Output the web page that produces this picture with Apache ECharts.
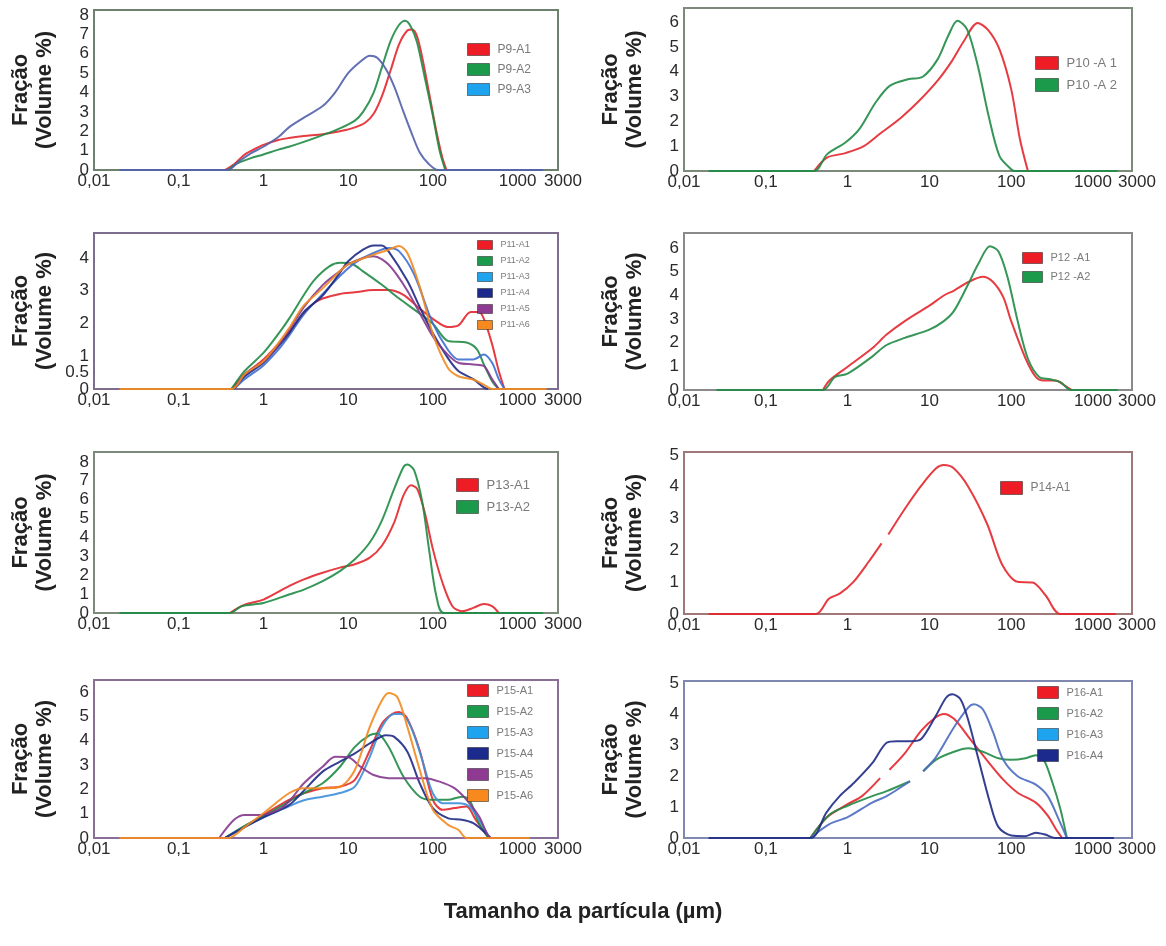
<!DOCTYPE html>
<html><head><meta charset="utf-8">
<script src="https://cdn.jsdelivr.net/npm/echarts@6/dist/echarts.min.js"></script>
<style>html,body{margin:0;padding:0;background:#fff}#c{width:1166px;height:946px}</style>
</head><body><div id="c"></div>
<script>
// ---------- tick labels ----------
const xTickValues = [0.01, 0.1, 1, 10, 100, 1000, 3000];
const xTickLabels = ['0,01', '0,1', '1', '10', '100', '1000', '3000'];
const yTicks_P9 = [0,1,2,3,4,5,6,7,8];
const yTicks_P10 = [0,1,2,3,4,5,6];
const yTicks_P11 = [0,0.5,1,2,3,4];
const yTicks_P12 = [0,1,2,3,4,5,6];
const yTicks_P13 = [0,1,2,3,4,5,6,7,8];
const yTicks_P14 = [0,1,2,3,4,5];
const yTicks_P15 = [0,1,2,3,4,5,6];
const yTicks_P16 = [0,1,2,3,4,5];

// ---------- data: [particle size (µm), volume %] ----------
const P9_A1 = [[0.35,0],[0.45,0.3],[0.6,0.8],[0.8,1.1],[1,1.3],[1.5,1.55],[2,1.65],[3,1.75],[5,1.85],[8,2.0],[12,2.2],[16,2.45],[20,2.9],[25,3.8],[32,5.2],[40,6.5],[50,7.2],[57,7.25],[65,6.9],[75,5.8],[90,4.0],[110,2.0],[130,0.6],[145,0]];
const P9_A2 = [[0.38,0],[0.5,0.35],[0.7,0.6],[1,0.8],[1.5,1.05],[2,1.2],[3,1.45],[5,1.8],[8,2.15],[12,2.55],[15,3.0],[20,4.0],[25,5.3],[32,6.7],[40,7.5],[47,7.7],[55,7.4],[65,6.6],[80,4.8],[100,2.8],[120,1.0],[140,0]];
const P9_A3 = [[0.02,0],[0.38,0],[0.5,0.4],[0.7,0.85],[1,1.2],[1.5,1.7],[2,2.2],[3,2.7],[5,3.3],[7,4.0],[10,5.0],[14,5.6],[18,5.9],[22,5.8],[28,5.2],[35,4.3],[45,3.0],[55,2.0],[70,0.9],[90,0.3],[115,0],[2000,0]];

const P10_A1 = [[0.39,0],[0.56,0.54],[0.94,0.72],[1.58,1.0],[2.6,1.55],[4.5,2.15],[7.5,2.83],[12.6,3.64],[19,4.45],[26,5.2],[39,5.97],[53,5.66],[72,4.9],[100,3.3],[128,1.28],[160,0]];
const P10_A2 = [[0.02,0],[0.39,0],[0.56,0.67],[0.94,1.15],[1.4,1.7],[2.2,2.76],[3.3,3.44],[5.5,3.7],[8.3,3.8],[12.6,4.5],[17,5.45],[22,6.06],[29,5.7],[39,4.25],[53,2.22],[72,0.6],[100,0.07],[110,0],[2000,0]];

const P11_A1 = [[0.42,0],[0.6,0.44],[1,0.9],[1.5,1.37],[2,1.73],[3,2.3],[4,2.63],[5,2.76],[8,2.9],[12,2.95],[20,3.02],[30,3.02],[45,2.87],[70,2.45],[100,2.14],[150,1.89],[200,1.94],[280,2.35],[350,2.35],[400,2.14],[500,1.37],[600,0.55],[700,0]];
const P11_A2 = [[0.42,0],[0.6,0.55],[1,1.1],[1.5,1.68],[2,2.14],[3,2.87],[4,3.33],[6,3.74],[8,3.85],[11,3.82],[15,3.59],[25,3.18],[40,2.76],[70,2.3],[100,1.99],[150,1.47],[250,1.42],[330,1.22],[400,0.75],[500,0.24],[600,0]];
const P11_A3 = [[0.45,0],[0.6,0.3],[1,0.72],[1.5,1.2],[2,1.62],[3,2.28],[5,2.9],[8,3.45],[12,3.85],[20,4.15],[30,4.3],[40,4.2],[60,3.5],[100,2.0],[150,1.2],[200,0.9],[300,0.9],[400,1.05],[500,0.8],[600,0.3],[700,0]];
const P11_A4 = [[0.45,0],[0.6,0.38],[1,0.8],[1.5,1.3],[2,1.7],[3,2.35],[5,2.85],[8,3.55],[10,3.9],[15,4.25],[20,4.38],[25,4.38],[30,4.2],[50,3.3],[70,2.5],[100,1.7],[150,0.95],[200,0.55],[300,0.3],[400,0.05],[450,0]];
const P11_A5 = [[0.45,0],[0.6,0.45],[1,0.85],[1.5,1.35],[2,1.8],[3,2.5],[5,3.17],[8,3.6],[10,3.8],[15,4.0],[20,4.05],[30,3.8],[50,3.0],[100,1.6],[150,1.05],[200,0.8],[300,0.75],[400,0.7],[500,0.3],[600,0]];
const P11_A6 = [[0.02,0],[0.42,0],[0.6,0.45],[1,0.85],[1.5,1.4],[2,1.85],[3,2.55],[5,3.07],[8,3.6],[10,3.8],[20,4.1],[30,4.25],[40,4.36],[50,4.15],[70,3.12],[100,1.68],[150,0.65],[200,0.39],[300,0.29],[400,0.13],[500,0],[2200,0]];

const P12_A1 = [[0.5,0],[0.6,0.4],[1,0.98],[2,1.76],[3,2.34],[5,2.91],[10,3.56],[15,3.99],[20,4.2],[30,4.56],[45,4.78],[60,4.56],[80,3.92],[100,2.91],[150,1.33],[200,0.55],[250,0.4],[350,0.4],[450,0.19],[550,0]];
const P12_A2 = [[0.025,0],[0.5,0],[0.7,0.55],[1,0.69],[2,1.41],[3,1.9],[5,2.2],[10,2.55],[15,2.91],[20,3.34],[30,4.49],[40,5.35],[55,6.07],[70,5.85],[90,4.78],[120,2.91],[160,1.33],[220,0.55],[300,0.45],[400,0.33],[500,0.04],[550,0],[2000,0]];

const P13_A1 = [[0.4,0],[0.6,0.44],[1,0.71],[2,1.42],[3,1.78],[5,2.13],[8,2.4],[12,2.58],[18,2.93],[25,3.56],[35,4.8],[45,6.22],[55,6.76],[65,6.58],[80,5.33],[100,3.38],[130,1.6],[170,0.36],[220,0.09],[300,0.27],[400,0.48],[500,0.36],[600,0]];
const P13_A2 = [[0.02,0],[0.4,0],[0.55,0.36],[1,0.53],[2,0.98],[3,1.24],[5,1.69],[8,2.22],[12,2.84],[18,3.73],[25,4.89],[35,6.58],[45,7.73],[50,7.86],[60,7.56],[75,5.87],[90,3.38],[110,0.89],[135,0],[2000,0]];

const P14_A1 = [[0.02,0],[0.41,0],[0.59,0.48],[0.8,0.64],[1.18,1.01],[1.82,1.65],[2.6,2.22],[2.85,null],[3.15,2.5],[5,3.3],[8,4.04],[12,4.57],[15,4.68],[20,4.57],[30,3.99],[51,2.82],[78,1.54],[120,1.01],[183,0.99],[263,0.59],[400,0],[1900,0]];

const P15_A1 = [[0.35,0],[0.6,0.48],[1,0.95],[2,1.57],[3,1.84],[5,2.05],[8,2.11],[12,2.39],[18,3.6],[25,4.7],[33,5.1],[40,5.18],[50,4.91],[70,3.6],[100,1.57],[130,1.16],[180,1.23],[250,1.3],[320,0.75],[420,0.2],[480,0]];
const P15_A2 = [[0.35,0],[0.6,0.5],[1,0.9],[2,1.5],[3,1.85],[5,2.25],[8,2.93],[12,3.75],[18,4.23],[22,4.3],[30,3.75],[45,2.52],[70,1.7],[100,1.57],[150,1.57],[220,1.7],[270,1.57],[350,0.61],[450,0]];
const P15_A3 = [[0.35,0],[0.6,0.45],[1,0.85],[2,1.3],[3,1.55],[5,1.7],[8,1.85],[12,2.11],[18,3.34],[25,4.57],[35,5.1],[42,5.1],[55,4.57],[75,3.2],[100,1.84],[130,1.43],[200,1.43],[270,1.3],[350,0.75],[470,0]];
const P15_A4 = [[0.35,0],[0.6,0.45],[1,0.85],[2,1.35],[3,1.95],[5,2.73],[8,3.14],[12,3.48],[18,3.89],[28,4.23],[35,4.16],[50,3.55],[70,2.25],[100,1.23],[150,0.82],[220,0.75],[300,0.61],[400,0.27],[480,0]];
const P15_A5 = [[0.3,0],[0.45,0.75],[0.6,0.95],[0.9,0.95],[1.5,1.16],[2,1.5],[3,2.25],[5,2.93],[7,3.34],[10,3.32],[14,2.93],[20,2.59],[30,2.46],[50,2.46],[80,2.46],[120,2.32],[180,2.05],[250,1.57],[350,0.89],[450,0.07],[480,0]];
const P15_A6 = [[0.02,0],[0.38,0],[0.6,0.45],[1,1.02],[2,1.84],[3,2.05],[5,2.05],[8,2.11],[12,2.8],[18,4.57],[25,5.66],[30,5.97],[38,5.8],[50,4.57],[70,2.8],[100,1.16],[150,0.55],[200,0.34],[250,0],[1400,0]];

const P16_A1 = [[0.35,0],[0.56,0.67],[1,1.09],[1.5,1.35],[2.5,1.93],[2.85,null],[3.25,2.2],[5,2.73],[8,3.47],[12,3.89],[15,4.0],[20,3.84],[30,3.26],[50,2.52],[80,1.88],[120,1.46],[200,1.14],[280,0.72],[350,0.3],[420,0]];
const P16_A2 = [[0.35,0],[0.6,0.75],[1,1.04],[2,1.35],[3,1.51],[5.8,1.83],[7,null],[8.4,2.15],[12,2.52],[20,2.78],[30,2.89],[45,2.78],[70,2.57],[100,2.52],[150,2.57],[200,2.67],[250,2.52],[320,1.78],[400,0.93],[480,0]];
const P16_A3 = [[0.35,0],[0.6,0.45],[1,0.67],[2,1.14],[3,1.35],[5.8,1.83],[7,null],[8.4,2.15],[12,2.6],[20,3.57],[30,4.21],[35,4.31],[45,4.15],[60,3.41],[80,2.52],[120,1.99],[200,1.72],[280,1.35],[380,0.61],[480,0]];
const P16_A4 = [[0.02,0],[0.35,0],[0.55,0.82],[0.8,1.35],[1.2,1.78],[2,2.41],[3,3.07],[4,3.12],[6,3.12],[8,3.2],[12,3.94],[16,4.52],[19,4.63],[24,4.47],[30,3.78],[40,2.52],[55,1.14],[70,0.35],[100,0.08],[150,0.06],[200,0.17],[260,0.11],[350,0],[1800,0]];

// ---------- styling ----------
const RED = '#e3262c', GREEN = '#1f8b45', NAVY = '#1f2a86', PURPLE = '#84388e', ORANGE = '#f28a1f';
const L_RED = '#ee1c25', L_GREEN = '#1a9a4a', L_BLUE = '#1ea3ee', L_NAVY = '#1b2a8c', L_PURPLE = '#8e3a92', L_ORANGE = '#f7891f';
const FONT = 'Liberation Sans, Arial, sans-serif';

const panels = [
  {grid:{left:94, top:10, width:464, height:160}, yMax:8.26, ticks:yTicks_P9, border:'#6e806e',
   legend:{left:467, top:43, w:22, h:12, gap:7, fs:12},
   series:[['P9-A1',P9_A1,RED,L_RED],['P9-A2',P9_A2,GREEN,L_GREEN],['P9-A3',P9_A3,'#5161ab',L_BLUE]]},
  {grid:{left:684, top:8, width:448, height:163}, yMax:6.57, ticks:yTicks_P10, border:'#7c8a7c',
   legend:{left:1035, top:56, w:23, h:13, gap:8, fs:13},
   series:[['P10 -A 1',P10_A1,RED,L_RED],['P10 -A 2',P10_A2,GREEN,L_GREEN]]},
  {grid:{left:94, top:233, width:464, height:156}, yMax:4.76, ticks:yTicks_P11, border:'#7e6e8e',
   legend:{left:477, top:240, w:15, h:9, gap:6, fs:9},
   series:[['P11-A1',P11_A1,RED,L_RED],['P11-A2',P11_A2,GREEN,L_GREEN],['P11-A3',P11_A3,'#3f6fd0',L_BLUE],
           ['P11-A4',P11_A4,NAVY,L_NAVY],['P11-A5',P11_A5,PURPLE,L_PURPLE],['P11-A6',P11_A6,ORANGE,L_ORANGE]]},
  {grid:{left:684, top:233, width:448, height:157}, yMax:6.63, ticks:yTicks_P12, border:'#8a8a8a',
   legend:{left:1022, top:252, w:20, h:11, gap:7, fs:11},
   series:[['P12 -A1',P12_A1,RED,L_RED],['P12 -A2',P12_A2,GREEN,L_GREEN]]},
  {grid:{left:94, top:452, width:464, height:161}, yMax:8.52, ticks:yTicks_P13, border:'#7c8a7c',
   legend:{left:456, top:478, w:22, h:13, gap:8, fs:13},
   series:[['P13-A1',P13_A1,RED,L_RED],['P13-A2',P13_A2,GREEN,L_GREEN]]},
  {grid:{left:684, top:452, width:448, height:162}, yMax:5.09, ticks:yTicks_P14, border:'#a07878',
   legend:{left:1000, top:481, w:22, h:13, gap:8, fs:12},
   series:[['P14-A1',P14_A1,RED,L_RED]]},
  {grid:{left:94, top:680, width:464, height:158}, yMax:6.5, ticks:yTicks_P15, border:'#8a6e9a',
   legend:{left:467, top:684, w:21, h:12, gap:8, fs:11},
   series:[['P15-A1',P15_A1,RED,L_RED],['P15-A2',P15_A2,GREEN,L_GREEN],['P15-A3',P15_A3,'#3d8ed8',L_BLUE],
           ['P15-A4',P15_A4,NAVY,L_NAVY],['P15-A5',P15_A5,PURPLE,L_PURPLE],['P15-A6',P15_A6,ORANGE,L_ORANGE]]},
  {grid:{left:684, top:681, width:448, height:157}, yMax:5.06, ticks:yTicks_P16, border:'#7e88b0',
   legend:{left:1037, top:686, w:21, h:12, gap:8, fs:11},
   series:[['P16-A1',P16_A1,RED,L_RED],['P16-A2',P16_A2,GREEN,L_GREEN],['P16-A3',P16_A3,'#4a6cbf',L_BLUE],
           ['P16-A4',P16_A4,NAVY,L_NAVY]]}
];

function xLabel(v) {
  const lv = Math.log10(v);
  for (let i = 0; i < xTickValues.length; i++) {
    if (Math.abs(Math.log10(xTickValues[i]) - lv) < 0.01) {
      return i === xTickValues.length - 1 ? '{last|' + xTickLabels[i] + '}' : xTickLabels[i];
    }
  }
  return '';
}

const option = {
  animation: false,
  backgroundColor: '#ffffff',
  title: {text: 'Tamanho da partícula (µm)', left: 'center', top: 896,
          textStyle: {fontFamily: FONT, fontSize: 22, fontWeight: 'bold', color: '#222'}},
  grid: [], xAxis: [], yAxis: [], legend: [], series: []
};

const yLabelStyle = {fontFamily: FONT, fontSize: 17, color: '#2a2a2a', hideOverlap: false};
const extraAxes = [];

panels.forEach((p, i) => {
  option.grid.push(Object.assign({show: true, borderColor: p.border, borderWidth: 2,
    backgroundColor: 'transparent', containLabel: false, outerBoundsMode: 'none'}, p.grid));
  option.xAxis.push({type: 'log', logBase: 10, gridIndex: i, min: 0.01, max: 3000,
    axisLine: {show: false}, axisTick: {show: false}, splitLine: {show: false}, minorTick: {show: false},
    axisLabel: {margin: 3, fontFamily: FONT, fontSize: 17, color: '#2a2a2a', hideOverlap: false,
      formatter: xLabel,
      rich: {last: {fontFamily: FONT, fontSize: 17, color: '#2a2a2a', padding: [0, 0, 0, 10]}}}});
  const intTicks = p.ticks.filter(t => Number.isInteger(t));
  const fracTicks = p.ticks.filter(t => !Number.isInteger(t));
  option.yAxis.push({type: 'value', gridIndex: i, position: 'left', min: 0, max: p.yMax, interval: 1,
    axisLine: {show: false}, axisTick: {show: false}, splitLine: {show: false},
    axisLabel: Object.assign({margin: 5, showMinLabel: true,
      formatter: v => { const r = Math.round(v * 100) / 100; return intTicks.includes(r) ? String(r) : ''; }}, yLabelStyle),
    name: 'Fração\n(Volume %)', nameLocation: 'middle', nameGap: 37, nameRotate: 90,
    nameTextStyle: {fontFamily: FONT, fontSize: 22, fontWeight: 'bold', color: '#222', lineHeight: 24}});
  if (fracTicks.length) {
    extraAxes.push({type: 'value', gridIndex: i, position: 'left', offset: 0, min: 0, max: p.yMax, interval: 0.5,
      axisLine: {show: false}, axisTick: {show: false}, splitLine: {show: false},
      axisLabel: Object.assign({margin: 5, showMinLabel: false, showMaxLabel: false,
        formatter: v => { const r = Math.round(v * 100) / 100; return fracTicks.includes(r) ? String(r) : ''; }}, yLabelStyle)});
  }
  option.legend.push({orient: 'vertical', left: p.legend.left, top: p.legend.top, padding: 0,
    icon: 'rect', itemWidth: p.legend.w, itemHeight: p.legend.h, itemGap: p.legend.gap,
    selectedMode: false,
    itemStyle: {borderColor: 'rgba(40,40,40,0.55)', borderWidth: 1},
    textStyle: {fontFamily: FONT, fontSize: p.legend.fs, color: '#7a7a7a', padding: [0, 0, 0, 3]},
    data: p.series.map(s => ({name: s[0], itemStyle: {color: s[3]}}))});
  p.series.forEach(s => {
    option.series.push({type: 'line', name: s[0], xAxisIndex: i, yAxisIndex: i, data: s[1],
      smooth: 0.3, symbol: 'none', connectNulls: false, color: s[2],
      lineStyle: {color: s[2], width: 2, opacity: 0.9}, emphasis: {disabled: true}, silent: true});
  });
});
extraAxes.forEach(a => option.yAxis.push(a));

const chart = echarts.init(document.getElementById('c'), null, {renderer: 'canvas'});
chart.setOption(option);
</script></body></html>
